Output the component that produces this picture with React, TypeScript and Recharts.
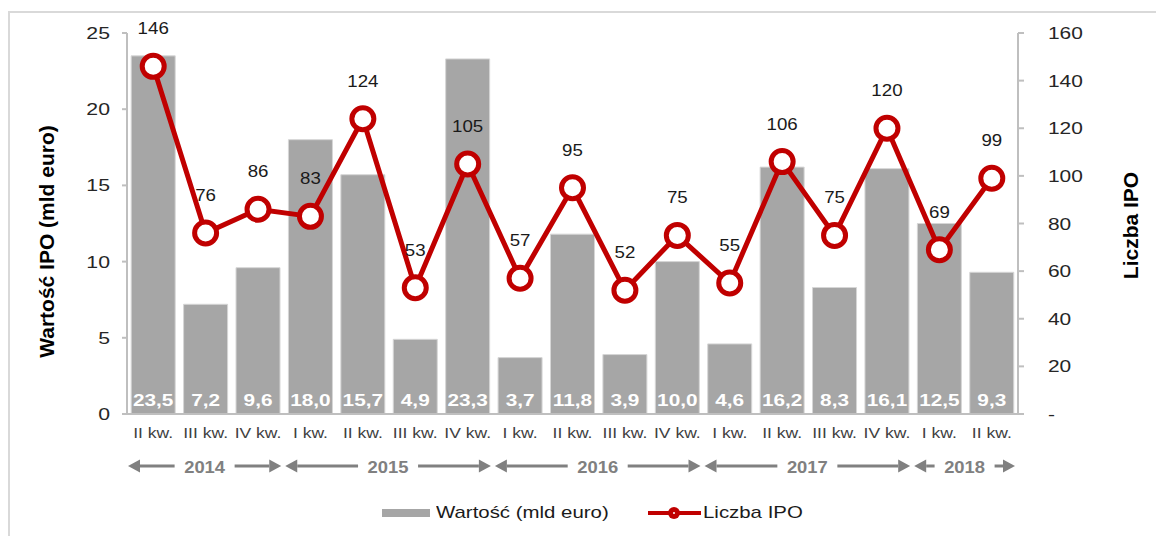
import React from 'react';
import { ComposedChart, Bar, Line, XAxis, YAxis, LabelList } from 'recharts';

// IPO value (bln EUR) and count per quarter, II 2014 – II 2018
const quarters = [
  'II kw.', 'III kw.', 'IV kw.',
  'I kw.', 'II kw.', 'III kw.', 'IV kw.',
  'I kw.', 'II kw.', 'III kw.', 'IV kw.',
  'I kw.', 'II kw.', 'III kw.', 'IV kw.',
  'I kw.', 'II kw.',
];
const years = ['2014', '2015', '2016', '2017', '2018'];
const quartersPerYear = [3, 4, 4, 4, 2];
const ipoValue = [23.5, 7.2, 9.6, 18.0, 15.7, 4.9, 23.3, 3.7, 11.8, 3.9, 10.0, 4.6, 16.2, 8.3, 16.1, 12.5, 9.3];
const ipoCount = [146, 76, 86, 83, 124, 53, 105, 57, 95, 52, 75, 55, 106, 75, 120, 69, 99];
const leftTicks = [0, 5, 10, 15, 20, 25];
const rightTicks = [0, 20, 40, 60, 80, 100, 120, 140, 160];

const W = 1156;
const H = 536;
const LEFT_W = 127;
const RIGHT_W = 138;
const BAND = (W - LEFT_W - RIGHT_W) / quarters.length;
const FONT = '"Liberation Sans", Arial, sans-serif';
const RED = '#c00000';
const GREY = '#a6a6a6';
const AXIS = '#bfbfbf';
const YEAR_GREY = '#808080';

// the source picture is stretched sideways, so text is widened with scaleX
function SText({ x, y, sx, children, ...rest }: any) {
  return (
    <text transform={`translate(${x} ${y}) scale(${sx} 1)`} x={0} y={0} fontFamily={FONT} {...rest}>
      {children}
    </text>
  );
}

const yearStarts: number[] = [];
let acc = 0;
quartersPerYear.forEach((n) => {
  yearStarts.push(acc);
  acc += n;
});

const data = quarters.map((q, i) => {
  const y = yearStarts.filter((s) => s <= i).length - 1;
  return { key: `${q} ${years[y]}`, quarter: q, value: ipoValue[i], count: ipoCount[i] };
});

function YearArrow({ left, right, label }: { left: number; right: number; label: string }) {
  const cy = 466;
  const head = 12;
  const half = 6.5;
  const mid = (left + right) / 2;
  const textHalf = 21;
  const gap = 9;
  return (
    <g>
      <polygon points={`${left},${cy} ${left + head},${cy - half} ${left + head},${cy + half}`} fill={YEAR_GREY} />
      <polygon points={`${right},${cy} ${right - head},${cy - half} ${right - head},${cy + half}`} fill={YEAR_GREY} />
      {mid - textHalf - gap > left + head && (
        <line x1={left + head} x2={mid - textHalf - gap} y1={cy} y2={cy} stroke={YEAR_GREY} strokeWidth={3} />
      )}
      {mid + textHalf + gap < right - head && (
        <line x1={mid + textHalf + gap} x2={right - head} y1={cy} y2={cy} stroke={YEAR_GREY} strokeWidth={3} />
      )}
      <SText x={mid} y={cy + 7} sx={1.15} textAnchor="middle" fontSize={16} fontWeight="bold" fill={YEAR_GREY}>
        {label}
      </SText>
    </g>
  );
}

function QuarterTick(props: any) {
  const { x, y, index } = props;
  const yi = yearStarts.indexOf(index);
  return (
    <g>
      <SText x={x} y={y + 24} sx={1.17} textAnchor="middle" fontSize={15} fill="#404040">
        {quarters[index]}
      </SText>
      {yi >= 0 && (
        <YearArrow
          left={x - BAND / 2 + 1}
          right={x - BAND / 2 + quartersPerYear[yi] * BAND - 3}
          label={years[yi]}
        />
      )}
    </g>
  );
}

function LeftTick(props: any) {
  const { x, y, payload } = props;
  return (
    <SText x={x} y={y + 6} sx={1.25} textAnchor="end" fontSize={17} fill="#262626">
      {payload.value}
    </SText>
  );
}

function RightTick(props: any) {
  const { x, y, payload } = props;
  return (
    <SText x={x} y={y + 6} sx={1.23} textAnchor="start" fontSize={17} fill="#262626">
      {payload.value === 0 ? '-' : payload.value}
    </SText>
  );
}

function ValueLabel(props: any) {
  const { x, y, width, height, value } = props;
  return (
    <SText x={x + width / 2} y={y + height - 8} sx={1.3} textAnchor="middle" fontSize={16} fontWeight="bold" fill="#ffffff">
      {Number(value).toFixed(1).replace('.', ',')}
    </SText>
  );
}

function CountLabel(props: any) {
  const { x, y, value } = props;
  return (
    <SText x={x} y={y - 32} sx={1.1} textAnchor="middle" fontSize={17} fill="#1a1a1a">
      {value}
    </SText>
  );
}

function LeftTitle(props: any) {
  const { viewBox } = props;
  const cx = 46;
  const cy = viewBox.y + viewBox.height / 2 + 18;
  return (
    <text x={cx} y={cy} transform={`rotate(-90 ${cx} ${cy})`} textAnchor="middle" dominantBaseline="central"
      fontFamily={FONT} fontSize={21} fontWeight="bold" fill="#000">
      Wartość IPO (mld euro)
    </text>
  );
}

function RightTitle(props: any) {
  const { viewBox } = props;
  const cx = 1130;
  const cy = viewBox.y + viewBox.height / 2 + 2;
  return (
    <text x={cx} y={cy} transform={`rotate(-90 ${cx} ${cy})`} textAnchor="middle" dominantBaseline="central"
      fontFamily={FONT} fontSize={21} fontWeight="bold" fill="#000">
      Liczba IPO
    </text>
  );
}

const legendText: React.CSSProperties = {
  position: 'absolute',
  top: 502,
  fontSize: 17,
  lineHeight: '22px',
  color: '#1a1a1a',
  transform: 'scaleX(1.2)',
  transformOrigin: 'left center',
  whiteSpace: 'nowrap',
};

export default function App() {
  return (
    <div style={{ position: 'absolute', left: 0, top: 0, width: W, height: H, background: '#fff', fontFamily: FONT }}>
      <div
        style={{
          position: 'absolute',
          left: 8,
          top: 11,
          width: W - 8,
          height: H - 11,
          borderTop: '2px solid #d9d9d9',
          borderLeft: '2px solid #d9d9d9',
          boxSizing: 'border-box',
        }}
      />
      <ComposedChart
        width={W}
        height={H}
        data={data}
        margin={{ top: 33, right: 0, left: 0, bottom: 92 }}
        barCategoryGap="8%"
        style={{ position: 'absolute', left: 0, top: 0 }}
      >
        <XAxis
          dataKey="key"
          interval={0}
          tickLine={false}
          tickSize={0}
          tickMargin={0}
          height={30}
          axisLine={{ stroke: AXIS, strokeWidth: 2 }}
          tick={<QuarterTick />}
        />
        <YAxis
          yAxisId="left"
          width={LEFT_W}
          domain={[0, 25]}
          ticks={leftTicks}
          tickSize={5}
          tickMargin={12}
          axisLine={{ stroke: AXIS, strokeWidth: 2 }}
          tickLine={{ stroke: AXIS, strokeWidth: 2 }}
          tick={<LeftTick />}
          label={<LeftTitle />}
        />
        <YAxis
          yAxisId="right"
          orientation="right"
          width={RIGHT_W}
          domain={[0, 160]}
          ticks={rightTicks}
          tickSize={6}
          tickMargin={24}
          axisLine={{ stroke: AXIS, strokeWidth: 2 }}
          tickLine={{ stroke: AXIS, strokeWidth: 2 }}
          tick={<RightTick />}
          label={<RightTitle />}
        />
        <Bar yAxisId="left" dataKey="value" fill={GREY} stroke="#d6d6d6" strokeWidth={1} isAnimationActive={false}>
          <LabelList dataKey="value" content={<ValueLabel />} />
        </Bar>
        <Line
          yAxisId="right"
          dataKey="count"
          stroke={RED}
          strokeWidth={5}
          dot={{ r: 11, fill: '#ffffff', stroke: RED, strokeWidth: 5 }}
          activeDot={false}
          isAnimationActive={false}
        >
          <LabelList dataKey="count" content={<CountLabel />} />
        </Line>
      </ComposedChart>
      <div style={{ position: 'absolute', left: 382, top: 509, width: 48, height: 8, background: GREY }} />
      <div style={{ ...legendText, left: 436 }}>Wartość (mld euro)</div>
      <div style={{ position: 'absolute', left: 648, top: 511, width: 53, height: 4, background: RED }} />
      <div style={{ position: 'absolute', left: 668, top: 507, width: 12, height: 12, borderRadius: 6, background: RED }} />
      <div style={{ position: 'absolute', left: 673, top: 512, width: 2, height: 2, borderRadius: 1, background: '#fff' }} />
      <div style={{ ...legendText, left: 703 }}>Liczba IPO</div>
    </div>
  );
}
